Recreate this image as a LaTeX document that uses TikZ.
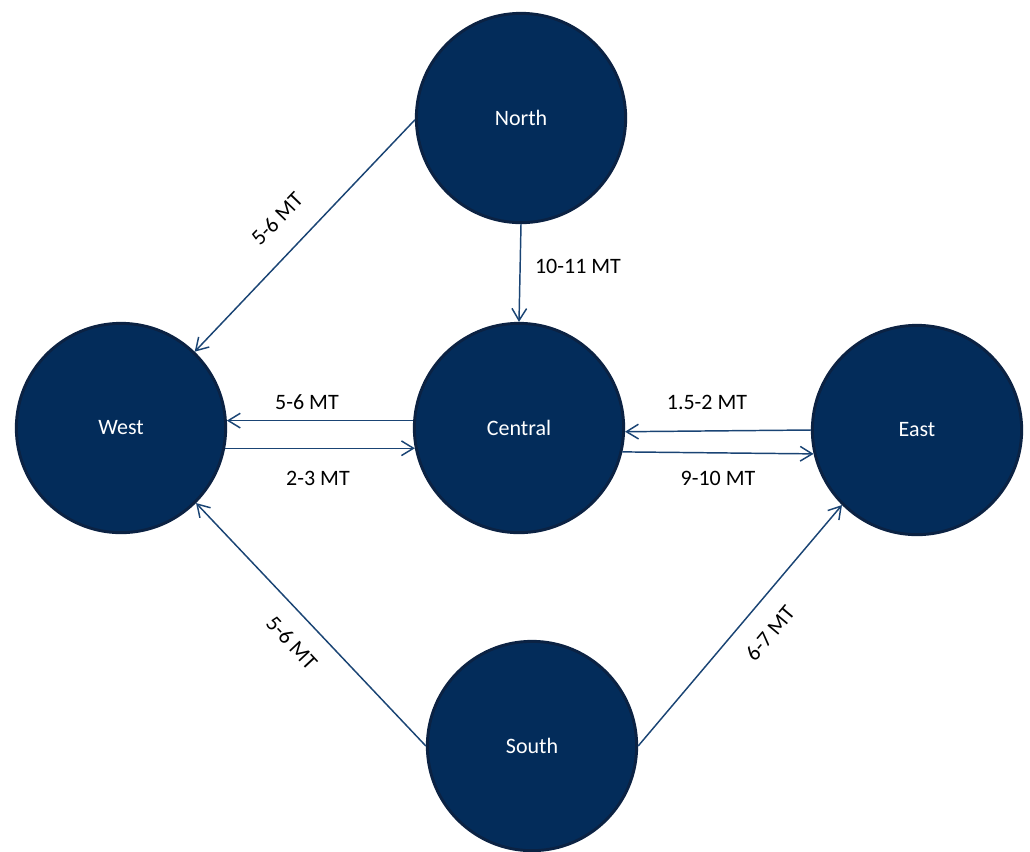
\documentclass[tikz,border=0pt]{standalone}
\usepackage{fontspec}
\setmainfont{Carlito}
\usetikzlibrary{arrows.meta}
\definecolor{nodefill}{HTML}{032C5A}
\definecolor{nodeedge}{HTML}{0B2243}
\definecolor{linecol}{HTML}{1A4474}
\begin{document}
\begin{tikzpicture}[x=0.75pt,y=-0.75pt,
  region/.style={circle,fill=nodefill,draw=nodeedge,line width=2.2pt,minimum size=157pt,inner sep=0pt,text=white,font=\fontsize{16.5}{19}\selectfont},
  flow/.style={draw=linecol,line width=1.1pt,-{Straight Barb[length=9pt,width=11pt,line width=1.1pt]}},
  lbl/.style={font=\fontsize{16.5}{19}\selectfont,text=black,inner sep=1pt}]
\useasboundingbox (0,0) rectangle (1030,851);
\node[region] (north) at (521,118) {North};
\node[region] (west) at (121,428) {West};
\node[region] (central) at (519,428) {Central};
\node[region] (east) at (917,430) {East};
\node[region] (south) at (532,746) {South};

\draw[flow] (north.181) -- (west.46);
\draw[flow] (north.-90) -- (central.90);
\draw[flow] (central.176) -- (west.4);
\draw[flow] (west.-11) -- (central.191);
\draw[flow] (east.180) -- (central.-2);
\draw[flow] (central.-13.6) -- (east.193);
\draw[flow] (south.180) -- (west.-45);
\draw[flow] (south.0) -- (east.225);

\node[lbl,rotate=46] (l1) at (277,219) {5-6 MT};
\node[lbl] (l2) at (578,266) {10-11 MT};
\node[lbl] (l3) at (307,402) {5-6 MT};
\node[lbl] (l4) at (318,478) {2-3 MT};
\node[lbl] (l5) at (707,402) {1.5-2 MT};
\node[lbl] (l6) at (718,478) {9-10 MT};
\node[lbl,rotate=-47] (l7) at (292,643) {5-6 MT};
\node[lbl,rotate=50] (l8) at (770,633) {6-7 MT};
\end{tikzpicture}
\end{document}
